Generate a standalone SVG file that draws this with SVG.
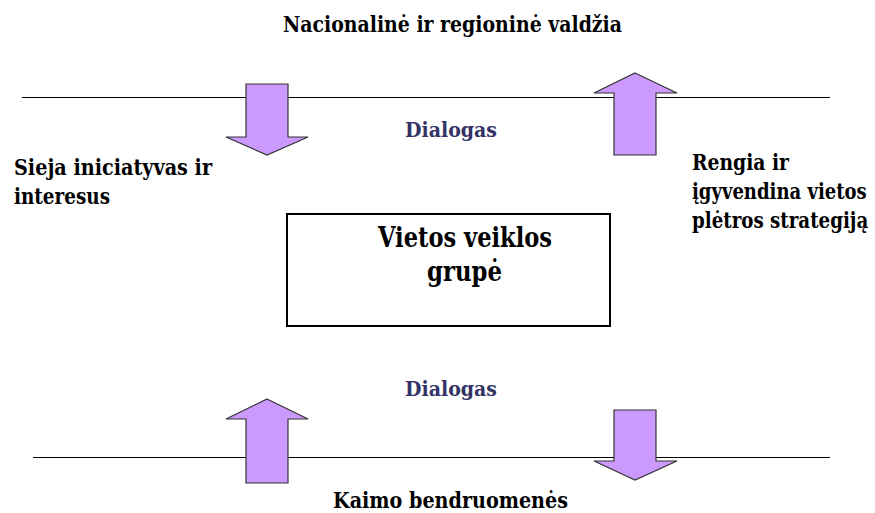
<svg xmlns="http://www.w3.org/2000/svg" width="875" height="513" viewBox="0 0 875 513">
<defs>
<style>
text{font-family:"DejaVu Serif",serif;font-weight:bold}
.t{fill:#000}
.d{fill:#333366;font-size:19.5px}
.arr{fill:#cc99ff;stroke:#333;stroke-width:1.2;stroke-linejoin:miter}
.ln{stroke:#000;stroke-width:1}
</style>
</defs>
<g id="lines">
<line class="ln" x1="22" y1="97.5" x2="830" y2="97.5"/>
<line class="ln" x1="33" y1="457.5" x2="830" y2="457.5"/>
</g>
<g id="connectors">
<polygon id="arrow-down-top" class="arr" points="246,84 288,84 288,137 308,137 267,155 226,137 246,137"/>
<polygon id="arrow-up-top" class="arr" points="635,73 677,93 656,93 656,155 614,155 614,93 594,93"/>
<polygon id="arrow-up-bottom" class="arr" points="267,399 308,419 288,419 288,483 246,483 246,419 226,419"/>
<polygon id="arrow-down-bottom" class="arr" points="614,410 656,410 656,461 677,461 635,480 594,461 614,461"/>
</g>
<g id="title">
<text class="t" x="283" y="32" font-size="23" textLength="339" lengthAdjust="spacingAndGlyphs">Nacionalinė ir regioninė valdžia</text>
</g>
<g id="dialog-top"><text class="d" x="405" y="137" textLength="92" lengthAdjust="spacingAndGlyphs">Dialogas</text></g>
<g id="dialog-bottom"><text class="d" x="405" y="396" textLength="92" lengthAdjust="spacingAndGlyphs">Dialogas</text></g>
<g id="left-label">
<text class="t" x="14" y="175" font-size="22" textLength="198" lengthAdjust="spacingAndGlyphs">Sieja iniciatyvas ir</text>
<text class="t" x="14" y="204" font-size="22" textLength="96" lengthAdjust="spacingAndGlyphs">interesus</text>
</g>
<g id="right-label">
<text class="t" x="692" y="170" font-size="22" textLength="97" lengthAdjust="spacingAndGlyphs">Rengia ir</text>
<text class="t" transform="translate(692,199) scale(0.78,1)" x="0" y="0" font-size="22" textLength="224" lengthAdjust="spacingAndGlyphs">įgyvendina vietos</text>
<text class="t" transform="translate(692,228) scale(0.78,1)" x="0" y="0" font-size="22" textLength="226" lengthAdjust="spacingAndGlyphs">plėtros strategiją</text>
</g>
<g id="vvg">
<rect x="287" y="214" width="323" height="112" fill="#fff" stroke="#000" stroke-width="2"/>
<text class="t" x="378" y="247" font-size="28" textLength="174" lengthAdjust="spacingAndGlyphs">Vietos veiklos</text>
<text class="t" x="427" y="281" font-size="28" textLength="75" lengthAdjust="spacingAndGlyphs">grupė</text>
</g>
<g id="bottom-title">
<text class="t" x="333" y="508" font-size="22" textLength="235" lengthAdjust="spacingAndGlyphs">Kaimo bendruomenės</text>
</g>
</svg>
